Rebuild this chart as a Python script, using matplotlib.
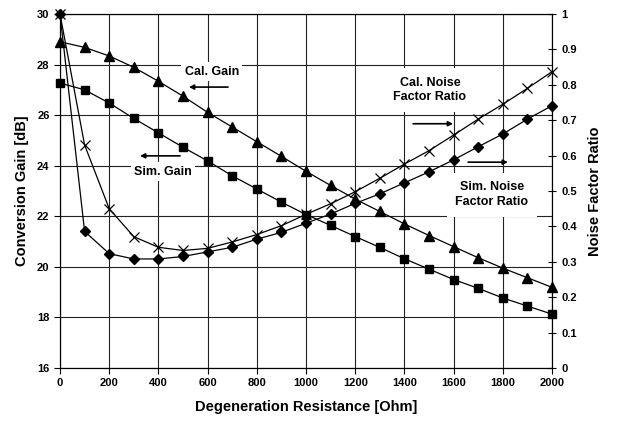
import numpy as np
import matplotlib
matplotlib.use('Agg')
import matplotlib.pyplot as plt

plt.rcParams.update({'font.family': 'Liberation Sans', 'font.weight': 'bold',
                     'axes.labelweight': 'bold'})

# degeneration resistance [Ohm]
res = [0, 100, 200, 300, 400, 500, 600, 700, 800, 900, 1000,
       1100, 1200, 1300, 1400, 1500, 1600, 1700, 1800, 1900, 2000]
# conversion gain [dB]
cal_gain = [28.90, 28.68, 28.34, 27.89, 27.34, 26.75, 26.11, 25.53, 24.95, 24.37, 23.78,
            23.22, 22.68, 22.19, 21.70, 21.24, 20.80, 20.36, 19.95, 19.57, 19.19]
sim_gain = [27.27, 27.00, 26.48, 25.87, 25.30, 24.73, 24.19, 23.60, 23.08, 22.56, 22.07,
            21.64, 21.20, 20.77, 20.32, 19.91, 19.50, 19.15, 18.77, 18.45, 18.13]
# noise factor ratio
cal_nf = [1.0, 0.630, 0.450, 0.371, 0.341, 0.332, 0.338, 0.356, 0.377, 0.402, 0.434,
          0.464, 0.498, 0.536, 0.576, 0.614, 0.658, 0.703, 0.745, 0.790, 0.837]
sim_nf = [1.0, 0.386, 0.323, 0.308, 0.308, 0.315, 0.328, 0.341, 0.364, 0.383, 0.409,
          0.435, 0.465, 0.492, 0.523, 0.554, 0.588, 0.625, 0.661, 0.703, 0.741]

fig = plt.figure(figsize=(6.19, 4.21), dpi=100)
ax = fig.add_axes([60/619, 1-368/421, 492/619, 354/421])
ax2 = ax.twinx()

lk = dict(color='black', lw=0.9, clip_on=False, zorder=4)
ax.plot(res, cal_gain, marker='^', ms=6.5, **lk)
ax.plot(res, sim_gain, marker='s', ms=5.5, **lk)
ax2.plot(res, cal_nf, marker='x', ms=7, mew=0.9, **lk)
ax2.plot(res, sim_nf, marker='D', ms=5, **lk)

ax.set_xlim(0, 2000); ax.set_ylim(16, 30)
ax2.set_ylim(0, 1)
ax.set_xticks(np.arange(0, 2001, 200))
ax.set_yticks(np.arange(16, 31, 2))
ax2.set_yticks(np.arange(0, 1.01, 0.1))
ax2.set_yticklabels(['0'] + [f'{v:.1f}' for v in np.arange(0.1, 0.95, 0.1)] + ['1'])
ax.grid(True, color='#222222', lw=0.8, zorder=0)
ax.set_axisbelow(True)
for a in (ax, ax2):
    for s in a.spines.values():
        s.set_linewidth(0.8)
ax.tick_params(axis='both', direction='out', length=4, width=0.8, labelsize=8)
ax2.tick_params(axis='y', direction='inout', length=6, width=0.8, labelsize=8)

ax.set_xlabel('Degeneration Resistance [Ohm]', fontsize=10.5, labelpad=8)
ax.set_ylabel('Conversion Gain [dB]', fontsize=10.5, labelpad=6)
ax2.set_ylabel('Noise Factor Ratio', fontsize=10.5, labelpad=8)

bb = dict(facecolor='white', edgecolor='none', pad=2.5)
ap = dict(arrowstyle='-|>', color='black', lw=1.2, mutation_scale=7, shrinkA=0, shrinkB=0)
ax.text(617, 27.72, 'Cal. Gain', ha='center', va='center', fontsize=9, bbox=bb, zorder=2)
ax.annotate('', xy=(524, 27.11), xytext=(683, 27.11), arrowprops=ap, zorder=3)
ax.text(419, 23.77, 'Sim. Gain', ha='center', va='center', fontsize=9, bbox=bb, zorder=2)
ax.annotate('', xy=(325, 24.39), xytext=(488, 24.39), arrowprops=ap, zorder=3)
ax.text(1504, 27.0, 'Cal. Noise\nFactor Ratio', ha='center', va='center', fontsize=9,
        linespacing=1.3, bbox=dict(facecolor='white', edgecolor='none', pad=6), zorder=2)
ax.annotate('', xy=(1598, 25.66), xytext=(1435, 25.66), arrowprops=ap, zorder=3)
ax.text(1755, 22.85, 'Sim. Noise\nFactor Ratio', ha='center', va='center', fontsize=9,
        linespacing=1.3, bbox=dict(facecolor='white', edgecolor='none', pad=6), zorder=2)
ax.annotate('', xy=(1821, 24.14), xytext=(1659, 24.14), arrowprops=ap, zorder=3)

fig.savefig('out.png', dpi=100)
